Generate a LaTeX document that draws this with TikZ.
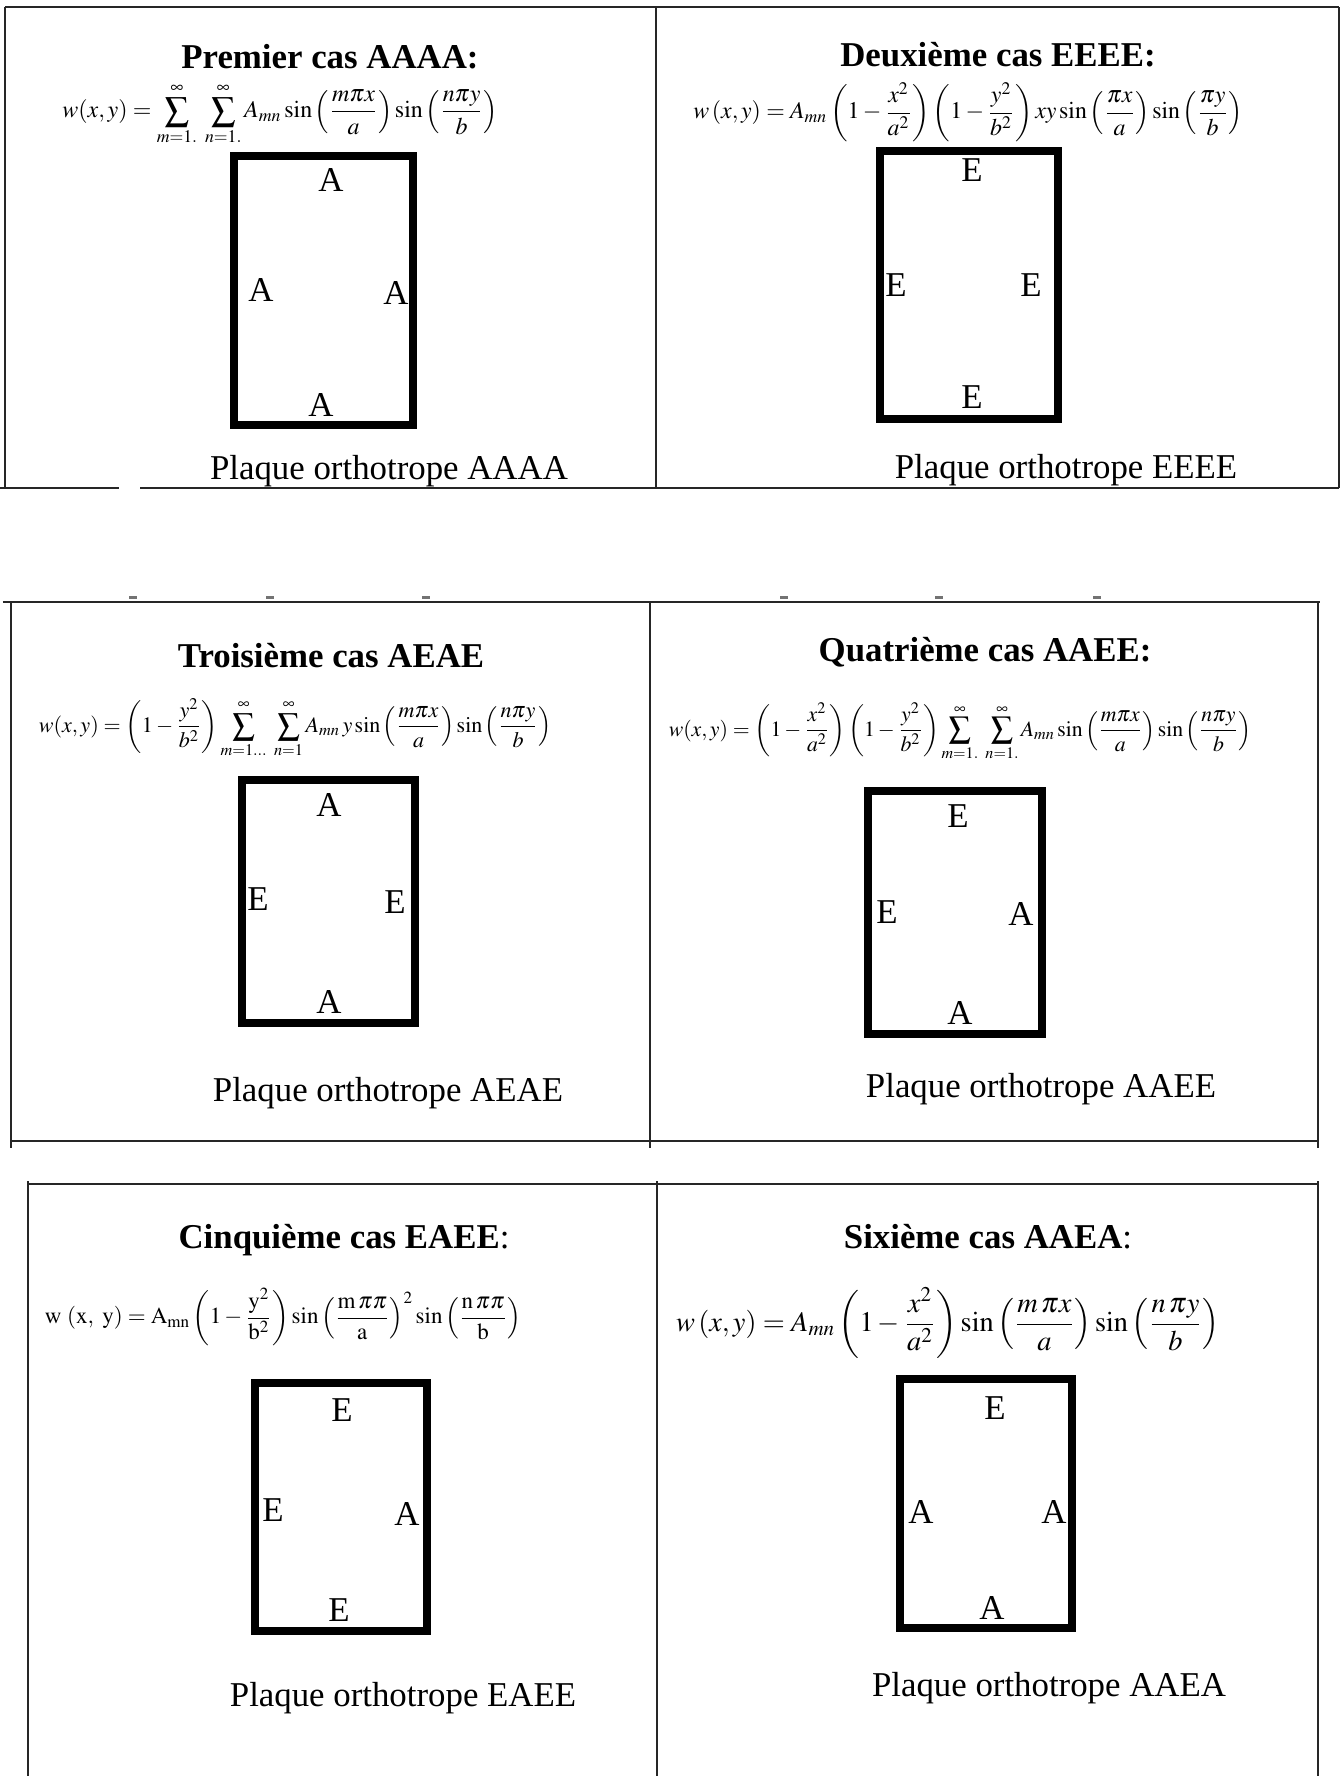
\documentclass[tikz,border=0pt]{standalone}
\usepackage{mathptmx}
\usepackage{fontspec}
\setmainfont{Liberation Serif}
\usetikzlibrary{positioning}

\newcommand{\formw}[2]{\resizebox{#1}{!}{$\displaystyle #2$}}

\begin{document}
\begin{tikzpicture}[
    x=0.014137cm, y=-0.014137cm,
    % Line styles
    cadre/.style={line width=0.7pt, color=black!85},
    plaque/.style={line width=3.2pt},
    trait/.style={line width=1.2pt, color=black!55},
    % Text styles
    titre/.style={font=\fontsize{14}{16}\selectfont\bfseries, anchor=base, inner sep=0pt},
    legende/.style={font=\fontsize{14}{16}\selectfont, anchor=base, inner sep=0pt},
    appui/.style={font=\fontsize{14}{16}\selectfont, inner sep=0pt},
    formule/.style={inner sep=0pt},
]
\useasboundingbox[fill=white] (0,0) rectangle (1344,1776);

% Table - first row
\draw[cadre] (5,7) -- (1339,7);
\draw[cadre] (0,488) -- (119,488);
\draw[cadre] (140,488) -- (1339,488);
\draw[cadre] (5,7) -- (5,488);
\draw[cadre] (656,7) -- (656,488);
\draw[cadre] (1339,7) -- (1339,488);

% Table - second row
\draw[cadre] (3,602) -- (1320,602);
\draw[cadre] (11,1141) -- (1318,1141);
\foreach \xv in {11,650,1318}
  \draw[cadre] (\xv,602) -- (\xv,1148);
\foreach \xt in {133,270,426,784,939,1097}
  \draw[trait] (\xt-4,597) -- (\xt+4,597);

% Table - third row
\draw[cadre] (28,1184) -- (1318,1184);
\foreach \xv in {28,657,1318}
  \draw[cadre] (\xv,1181) -- (\xv,1776);

% Premier cas
\node[titre] (t1) at (330,68) {Premier cas AAAA:};
\node[formule] (f1) at (280,114) {\formw{6.15cm}{w(x,y)=\sum_{m=1.}^{\infty}\;\sum_{n=1.}^{\infty}A_{mn}\sin\left(\frac{m\pi x}{a}\right)\sin\left(\frac{n\pi y}{b}\right)}};
\draw[plaque] (234,156) rectangle (413,425);
\node[appui] (a1n) at (331,180) {A};
\node[appui] (a1w) at (261,290) {A};
\node[appui] (a1e) at (396,293) {A};
\node[appui] (a1s) at (321,405) {A};
\node[legende] (l1) at (389,479) {Plaque orthotrope AAAA};

% Deuxieme cas
\node[titre] (t2) at (998,66) {Deuxième cas EEEE:};
\node[formule] (f2) at (968,112) {\formw{7.76cm}{w\left(x,y\right)=A_{mn}\left(1-\frac{x^{2}}{a^{2}}\right)\left(1-\frac{y^{2}}{b^{2}}\right)xy\sin\left(\frac{\pi x}{a}\right)\sin\left(\frac{\pi y}{b}\right)}};
\draw[plaque] (880,151) rectangle (1058,419);
\node[appui] (a2n) at (972,170) {E};
\node[appui] (a2w) at (896,285) {E};
\node[appui] (a2e) at (1031,285) {E};
\node[appui] (a2s) at (972,397) {E};
\node[legende] (l2) at (1066,478) {Plaque orthotrope EEEE};

% Troisieme cas
\node[titre] (t3) at (331,667) {Troisième cas AEAE};
\node[formule] (f3) at (295,728) {\formw{7.24cm}{w(x,y)=\left(1-\frac{y^{2}}{b^{2}}\right)\sum_{m=1\ldots}^{\infty}\;\sum_{n=1}^{\infty}A_{mn}\,y\sin\left(\frac{m\pi x}{a}\right)\sin\left(\frac{n\pi y}{b}\right)}};
\draw[plaque] (242,780) rectangle (415,1023);
\node[appui] (a3n) at (329,805) {A};
\node[appui] (a3w) at (258,899) {E};
\node[appui] (a3e) at (395,902) {E};
\node[appui] (a3s) at (329,1002) {A};
\node[legende] (l3) at (388,1101) {Plaque orthotrope AEAE};

% Quatrieme cas
\node[titre] (t4) at (985,661) {Quatrième cas AAEE:};
\node[formule] (f4) at (960,732) {\formw{8.23cm}{w(x,y)=\left(1-\frac{x^{2}}{a^{2}}\right)\left(1-\frac{y^{2}}{b^{2}}\right)\sum_{m=1.}^{\infty}\;\sum_{n=1.}^{\infty}A_{mn}\sin\left(\frac{m\pi x}{a}\right)\sin\left(\frac{n\pi y}{b}\right)}};
\draw[plaque] (868,791) rectangle (1042,1034);
\node[appui] (a4n) at (958,816) {E};
\node[appui] (a4w) at (887,912) {E};
\node[appui] (a4e) at (1021,914) {A};
\node[appui] (a4s) at (960,1013) {A};
\node[legende] (l4) at (1041,1097) {Plaque orthotrope AAEE};

% Cinquieme cas
\node[titre] (t5) at (344,1248) {Cinquième cas EAEE\textmd{:}};
\node[formule] (f5) at (283,1317) {\formw{6.73cm}{\mathrm{w}\ (\mathrm{x},\ \mathrm{y})=\mathrm{A}_{\mathrm{mn}}\left(1-\frac{\mathrm{y}^{2}}{\mathrm{b}^{2}}\right)\sin\left(\frac{\mathrm{m}\,\pi\pi}{\mathrm{a}}\right)^{2}\sin\left(\frac{\mathrm{n}\,\pi\pi}{\mathrm{b}}\right)}};
\draw[plaque] (255,1383) rectangle (427,1631);
\node[appui] (a5n) at (342,1410) {E};
\node[appui] (a5w) at (273,1510) {E};
\node[appui] (a5e) at (407,1514) {A};
\node[appui] (a5s) at (339,1610) {E};
\node[legende] (l5) at (403,1706) {Plaque orthotrope EAEE};

% Sixieme cas
\node[titre] (t6) at (988,1248) {Sixième cas AAEA\textmd{:}};
\node[formule] (f6) at (948,1323) {\formw{7.68cm}{w\left(x,y\right)=A_{mn}\left(1-\frac{x^{2}}{a^{2}}\right)\sin\left(\frac{m\,\pi x}{a}\right)\sin\left(\frac{n\,\pi y}{b}\right)}};
\draw[plaque] (900,1379) rectangle (1072,1628);
\node[appui] (a6n) at (995,1408) {E};
\node[appui] (a6w) at (921,1512) {A};
\node[appui] (a6e) at (1054,1512) {A};
\node[appui] (a6s) at (992,1608) {A};
\node[legende] (l6) at (1049,1696) {Plaque orthotrope AAEA};

\end{tikzpicture}
\end{document}
